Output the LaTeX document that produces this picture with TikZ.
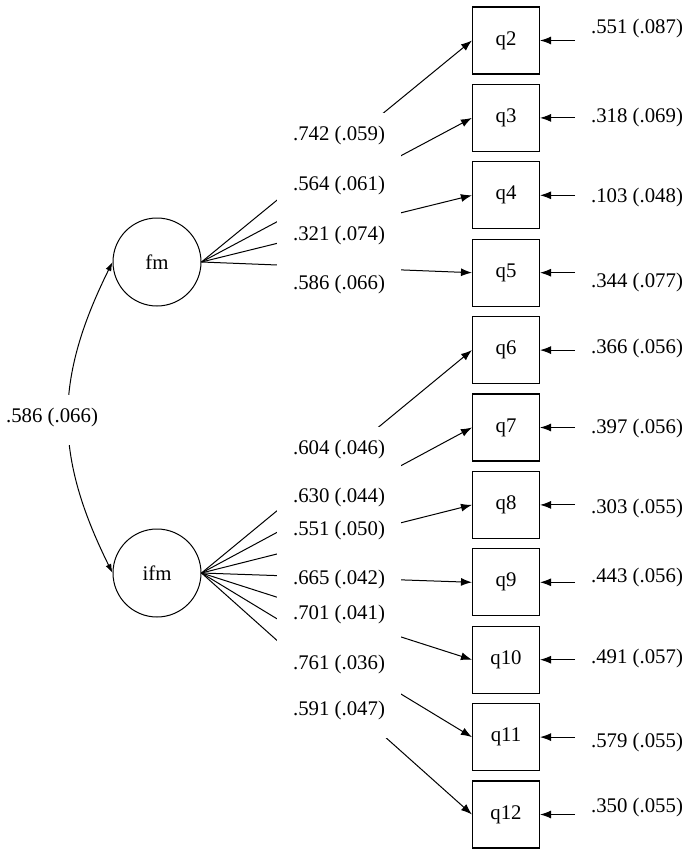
\documentclass[tikz,border=0pt]{standalone}
\usepackage{fontspec}
\setmainfont{Liberation Serif}
\usetikzlibrary{arrows.meta,positioning}

\tikzset{
  latent/.style={circle, draw, line width=1pt, minimum size=88pt, inner sep=0pt},
  obs/.style={rectangle, draw, line width=1.1pt, minimum size=67pt, inner sep=0pt},
  load/.style={-{Latex[length=11pt,width=8pt]}, line width=1pt},
  coef/.style={fill=white, inner sep=0pt, anchor=base, text height=27pt, text depth=23pt, minimum width=124pt},
}

\begin{document}
\begin{tikzpicture}[x=1pt, y=1pt, font=\fontsize{20.8}{25}\selectfont]
    \useasboundingbox (0,0) rectangle (685,-856);

    % Factors
    \node[latent] (fm) at (157,-262) {fm};
    \node[latent] (ifm) at (157,-573) {ifm};

    % Items
    \node[obs] (q2) at (506,-40.5) {q2};
    \node[obs] (q3) at (506,-117.9) {q3};
    \node[obs] (q4) at (506,-195.3) {q4};
    \node[obs] (q5) at (506,-272.7) {q5};
    \node[obs] (q6) at (506,-350.1) {q6};
    \node[obs] (q7) at (506,-427.5) {q7};
    \node[obs] (q8) at (506,-504.9) {q8};
    \node[obs] (q9) at (506,-582.3) {q9};
    \node[obs] (q10) at (506,-659.7) {q10};
    \node[obs] (q11) at (506,-737.1) {q11};
    \node[obs] (q12) at (506,-814.5) {q12};

    % Loadings
    \draw[load] (fm.east) -- (q2.west);
    \draw[load] (fm.east) -- (q3.west);
    \draw[load] (fm.east) -- (q4.west);
    \draw[load] (fm.east) -- (q5.west);
    \draw[load] (ifm.east) -- (q6.west);
    \draw[load] (ifm.east) -- (q7.west);
    \draw[load] (ifm.east) -- (q8.west);
    \draw[load] (ifm.east) -- (q9.west);
    \draw[load] (ifm.east) -- (q10.west);
    \draw[load] (ifm.east) -- (q11.west);
    \draw[load] (ifm.east) -- (q12.west);

    \node[coef] (l2) at (339,-140) {.742 (.059)};
    \node[coef] (l3) at (339,-190) {.564 (.061)};
    \node[coef] (l4) at (339,-240) {.321 (.074)};
    \node[coef] (l5) at (339,-289) {.586 (.066)};
    \node[coef] (l6) at (339,-454) {.604 (.046)};
    \node[coef] (l7) at (339,-502) {.630 (.044)};
    \node[coef] (l8) at (339,-535) {.551 (.050)};
    \node[coef] (l9) at (339,-584) {.665 (.042)};
    \node[coef] (l10) at (339,-619) {.701 (.041)};
    \node[coef] (l11) at (339,-669) {.761 (.036)};
    \node[coef] (l12) at (339,-715) {.591 (.047)};

    % Correlation
    \draw[{Latex[length=9pt,width=6pt]}-{Latex[length=9pt,width=6pt]}, line width=1pt]
        (fm.west) .. controls (54,-380) and (54,-455) .. (ifm.west);
    \node[coef, minimum width=0pt] (r) at (52,-422) {.586 (.066)};

    % Residuals
    \coordinate (e2) at (575,-40.5);
    \coordinate (e3) at (575,-117.9);
    \coordinate (e4) at (575,-195.3);
    \coordinate (e5) at (575,-272.7);
    \coordinate (e6) at (575,-350.1);
    \coordinate (e7) at (575,-427.5);
    \coordinate (e8) at (575,-504.9);
    \coordinate (e9) at (575,-582.3);
    \coordinate (e10) at (575,-659.7);
    \coordinate (e11) at (575,-737.1);
    \coordinate (e12) at (575,-814.5);
    \draw[load] (e2) -- (q2.east);
    \draw[load] (e3) -- (q3.east);
    \draw[load] (e4) -- (q4.east);
    \draw[load] (e5) -- (q5.east);
    \draw[load] (e6) -- (q6.east);
    \draw[load] (e7) -- (q7.east);
    \draw[load] (e8) -- (q8.east);
    \draw[load] (e9) -- (q9.east);
    \draw[load] (e10) -- (q10.east);
    \draw[load] (e11) -- (q11.east);
    \draw[load] (e12) -- (q12.east);

    \node (v2) at (637,-28) {.551 (.087)};
    \node (v3) at (637,-117) {.318 (.069)};
    \node (v4) at (637,-197) {.103 (.048)};
    \node (v5) at (637,-282) {.344 (.077)};
    \node (v6) at (637,-348) {.366 (.056)};
    \node (v7) at (637,-428) {.397 (.056)};
    \node (v8) at (637,-508) {.303 (.055)};
    \node (v9) at (637,-577) {.443 (.056)};
    \node (v10) at (637,-658) {.491 (.057)};
    \node (v11) at (637,-742) {.579 (.055)};
    \node (v12) at (637,-807) {.350 (.055)};
\end{tikzpicture}
\end{document}
